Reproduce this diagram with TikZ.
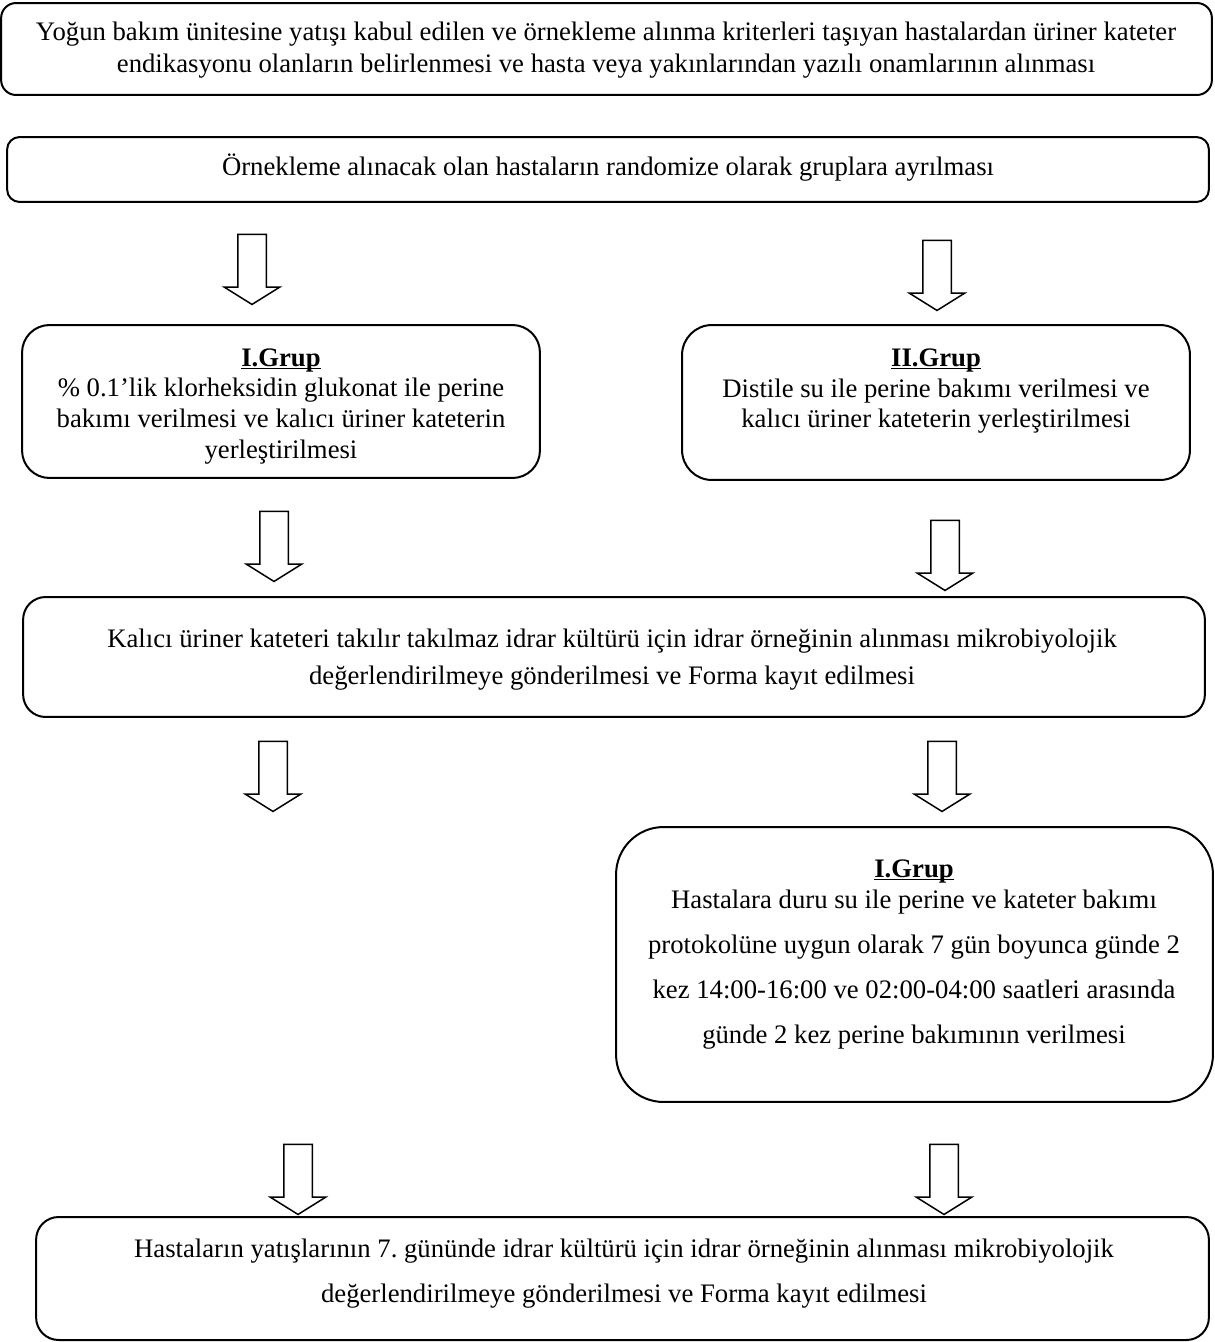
\documentclass[tikz,border=0pt]{standalone}
\usepackage{fontspec}
\setmainfont{Liberation Serif}
\usetikzlibrary{shapes.arrows}
\definecolor{flInk}{HTML}{000000}
\frenchspacing
\newcommand\flgrup[1]{\textbf{\underline{\smash{#1}}}}
\tikzset{
  fl box/.style={draw=flInk, line width=.04cm, rounded corners=#1, inner sep=0pt},
  fl text/.style={align=center, inner sep=0pt, text=flInk, font=\fontsize{15.2}{#1}\selectfont},
  fl arrow/.style={
    draw=flInk,
    line width=.03cm,
    shape=single arrow,
    rotate=-90,
    single arrow head extend=.27cm,
    single arrow tip angle=116,
    minimum height=1.4cm,
    inner xsep=0pt,
    inner ysep=.27cm
  }
}

\begin{document}
\begin{tikzpicture}[x=.02cm,y=-.02cm]
  \useasboundingbox (0,0) rectangle (1214,1342);

  \node[fl box=.3cm, minimum width=24.22cm, minimum height=1.84cm] (onam) at (606.5,49) {};
  \node[fl box=.25cm, minimum width=24.04cm, minimum height=1.3cm] (random) at (608,169.5) {};
  \node[fl box=.55cm, minimum width=10.36cm, minimum height=3.06cm] (grupbir) at (281,401.5) {};
  \node[fl box=.6cm, minimum width=10.16cm, minimum height=3.1cm] (grupiki) at (936,402.5) {};
  \node[fl box=.45cm, minimum width=23.64cm, minimum height=2.4cm] (kultur) at (614,657) {};
  \node[fl box=.95cm, minimum width=11.94cm, minimum height=5.5cm] (bakim) at (914.5,964.5) {};
  \node[fl box=.45cm, minimum width=23.46cm, minimum height=2.46cm] (gunyedi) at (622.5,1278.5) {};

  \node[fl text=18.2pt] (onam text) at (606,50)
    {Yoğun bakım ünitesine yatışı kabul edilen ve örnekleme alınma kriterleri taşıyan hastalardan üriner kateter\\
     endikasyonu olanların belirlenmesi ve hasta veya yakınlarından yazılı onamlarının alınması};
  \node[fl text=18.2pt] (random text) at (608,168)
    {Örnekleme alınacak olan hastaların randomize olarak gruplara ayrılması};
  \node[fl text=17.5pt] (grupbir text) at (281,415)
    {\flgrup{I.Grup}\\
     \% 0.1’lik klorheksidin glukonat ile perine\\
     bakımı verilmesi ve kalıcı üriner kateterin\\
     yerleştirilmesi};
  \node[fl text=17.5pt] (grupiki text) at (936,400)
    {\flgrup{II.Grup}\\
     Distile su ile perine bakımı verilmesi ve\\
     kalıcı üriner kateterin yerleştirilmesi};
  \node[fl text=21pt] (kultur text) at (612,660)
    {Kalıcı üriner kateteri takılır takılmaz idrar kültürü için idrar örneğinin alınması mikrobiyolojik\\
     değerlendirilmeye gönderilmesi ve Forma kayıt edilmesi};
  \node[fl text=25.6pt] (bakim text) at (914,963)
    {\flgrup{I.Grup}\\[-8pt]
     Hastalara duru su ile perine ve kateter bakımı\\
     protokolüne uygun olarak 7 gün boyunca günde 2\\
     kez 14:00-16:00 ve 02:00-04:00 saatleri arasında\\
     günde 2 kez perine bakımının verilmesi};
  \node[fl text=25.6pt] (gunyedi text) at (624,1274)
    {Hastaların yatışlarının 7. gününde idrar kültürü için idrar örneğinin alınması mikrobiyolojik\\
     değerlendirilmeye gönderilmesi ve Forma kayıt edilmesi};

  \node[fl arrow] (ok sol bir) at (252,265) {};
  \node[fl arrow] (ok sag bir) at (937,271) {};
  \node[fl arrow] (ok sol iki) at (274,542) {};
  \node[fl arrow] (ok sag iki) at (945,551) {};
  \node[fl arrow] (ok sol uc) at (273,772) {};
  \node[fl arrow] (ok sag uc) at (942,772) {};
  \node[fl arrow] (ok sol dort) at (298,1175) {};
  \node[fl arrow] (ok sag dort) at (944,1175) {};
\end{tikzpicture}
\end{document}
